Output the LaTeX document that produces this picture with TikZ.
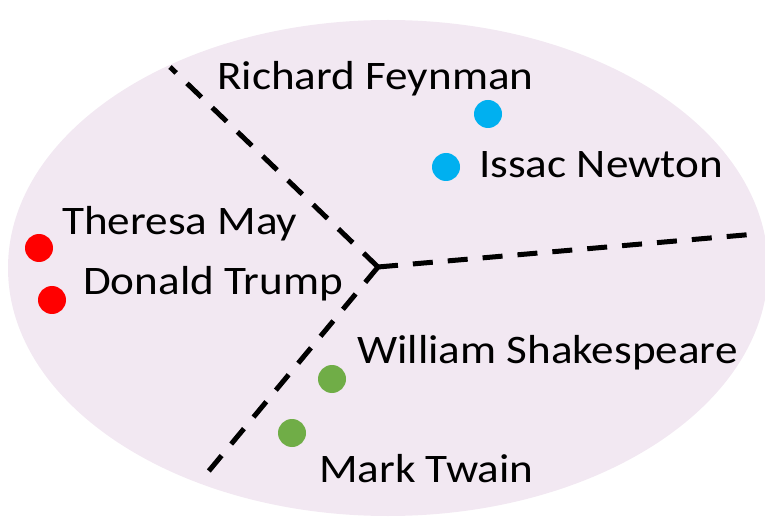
\documentclass[tikz,border=0pt]{standalone}
\usepackage{fontspec}
\setmainfont{Carlito}

\definecolor{cloud}{RGB}{242,232,242}
\definecolor{skyblue}{RGB}{0,176,240}
\definecolor{leaf}{RGB}{112,173,71}
\tikzset{
  who/.style={anchor=base west,inner sep=0pt,font=\fontsize{40.5}{48}\selectfont,xscale=1.115},
  spot/.style={circle,inner sep=0pt,minimum size=28pt},
  border/.style={line width=5pt,dash pattern=on 20pt off 15pt}
}

\begin{document}
\begin{tikzpicture}[x=1pt,y=-1pt]
\useasboundingbox (0,0) rectangle (765,518);
\fill [cloud] (388,268) ellipse [x radius=380pt, y radius=248pt];

% decision borders
\coordinate (hub) at (378,267);
\coordinate (upleft) at (170,67); \coordinate (right) at (756,234); \coordinate (downleft) at (208,472);
\draw [border] (hub) -- (upleft);
\draw [border] (hub) -- (right);
\draw [border] (hub) -- (downleft);

% scientists
\node [spot,fill=skyblue] (feynmandot) at (488,114) {}; \node [who] (feynman) at (217,90) {Richard Feynman};
\node [spot,fill=skyblue] (newtondot) at (446,167) {}; \node [who] (newton) at (479,178) {Issac Newton};

% politicians
\node [spot,fill=red] (maydot) at (39,248) {}; \node [who] (may) at (62,235) {Theresa May};
\node [spot,fill=red] (trumpdot) at (52,300) {}; \node [who] (trump) at (83,295) {Donald Trump};

% writers
\node [spot,fill=leaf] (shakespearedot) at (332,379) {}; \node [who] (shakespeare) at (357,363) {William Shakespeare};
\node [spot,fill=leaf] (twaindot) at (292,433) {}; \node [who] (twain) at (319,482) {Mark Twain};

\end{tikzpicture}
\end{document}
